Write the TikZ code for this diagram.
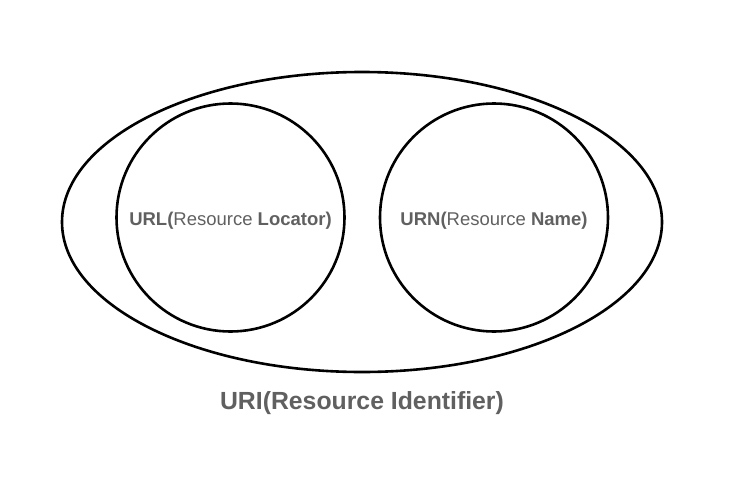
\documentclass[tikz,border=0pt]{standalone}
\usepackage{fontspec}
\setmainfont{Liberation Sans}
\usetikzlibrary{positioning,shapes.geometric}
\definecolor{labelgray}{RGB}{96,96,96}

\begin{document}
\begin{tikzpicture}[
  x=1pt, y=-1pt,
  font=\fontsize{18.5}{22}\selectfont,
  set/.style={draw, ellipse, line width=2.6pt, minimum width=600pt, minimum height=300pt},
  subset/.style={draw, circle, line width=2.6pt, minimum size=228pt, text=labelgray, inner sep=0pt,
    text height=16pt, text depth=0pt},
  title/.style={text=labelgray, font=\fontsize{24.8}{30}\selectfont\bfseries, inner sep=0pt}
]
\useasboundingbox (0,0) rectangle (734,490);

% Sets
\node[set] (uri) at (362,222) {};
\node[subset] (url) at (230.5,217.5) {\textbf{URL(}Resource \textbf{Locator)}};
\node[subset] (urn) at (494,217.5) {\textbf{URN(}Resource \textbf{Name)}};

% Caption
\node[title, below=18pt of uri] (uricap) {URI(Resource Identifier)};

\end{tikzpicture}
\end{document}
